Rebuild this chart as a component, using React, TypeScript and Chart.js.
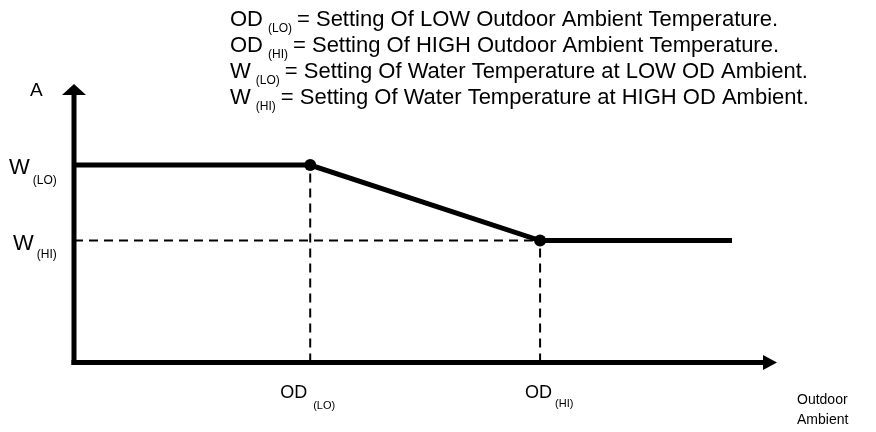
import React, { useEffect, useRef } from "react";
import { Chart, registerables } from "chart.js";

Chart.register(...registerables);

// ---- data (abstract units) ----
const X_MAX = 10;
const Y_MAX = 10;
const OD_LO = 3.36;
const OD_HI = 6.63;
const LINE_END = 9.36;
const W_LO = 7.09;
const W_HI = 4.38;

const curveX = [0, OD_LO, OD_HI, LINE_END];
const curveY = [W_LO, W_LO, W_HI, W_HI];
const curvePointRadius = [0, 6, 6, 0];

const legendMain = ["OD", "OD", "W", "W"];
const legendSub = ["(LO)", "(HI)", "(LO)", "(HI)"];
const legendText = [
  "= Setting Of LOW Outdoor Ambient Temperature.",
  "= Setting Of HIGH Outdoor Ambient Temperature.",
  "= Setting Of Water Temperature at LOW OD Ambient.",
  "= Setting Of Water Temperature at HIGH OD Ambient.",
];
const yAxisTitle = "A";
const xAxisTitle = ["Outdoor", "Ambient"];

const FONT = "'Liberation Sans', Arial, sans-serif";

function drawSubLabel(
  ctx: CanvasRenderingContext2D,
  main: string,
  sub: string,
  x: number,
  y: number,
  mainSize: number,
  subSize: number,
  gap: number,
  subDy: number
) {
  ctx.font = `${mainSize}px ${FONT}`;
  ctx.textBaseline = "middle";
  ctx.textAlign = "left";
  ctx.fillText(main, x, y);
  const w = ctx.measureText(main).width;
  ctx.font = `${subSize}px ${FONT}`;
  ctx.fillText(sub, x + w + gap, y + subDy);
  return x + w + gap + ctx.measureText(sub).width;
}

const diagramPlugin = {
  id: "diagram",
  afterDatasetsDraw(chart: any) {
    const ctx: CanvasRenderingContext2D = chart.ctx;
    const xs = chart.scales.x;
    const ys = chart.scales.y;
    const x0 = xs.getPixelForValue(0);
    const y0 = ys.getPixelForValue(0);
    const yTop = ys.getPixelForValue(Y_MAX);
    const xRight = xs.getPixelForValue(X_MAX);
    ctx.save();
    ctx.fillStyle = "#000";
    ctx.strokeStyle = "#000";
    ctx.lineWidth = 5;
    ctx.lineCap = "butt";
    // y axis
    ctx.beginPath();
    ctx.moveTo(x0, y0 + 2.5);
    ctx.lineTo(x0, yTop + 10);
    ctx.stroke();
    ctx.beginPath();
    ctx.moveTo(x0, yTop);
    ctx.lineTo(x0 - 12, yTop + 11);
    ctx.lineTo(x0 + 12, yTop + 11);
    ctx.closePath();
    ctx.fill();
    // x axis
    ctx.beginPath();
    ctx.moveTo(x0 - 2.5, y0);
    ctx.lineTo(xRight - 12, y0);
    ctx.stroke();
    ctx.beginPath();
    ctx.moveTo(xRight, y0);
    ctx.lineTo(xRight - 14, y0 - 7.5);
    ctx.lineTo(xRight - 14, y0 + 7.5);
    ctx.closePath();
    ctx.fill();

    // y axis title
    ctx.font = `19px ${FONT}`;
    ctx.textBaseline = "middle";
    ctx.textAlign = "left";
    ctx.fillText(yAxisTitle, 30, yTop + 7);

    // y labels
    const pyLo = ys.getPixelForValue(W_LO);
    const pyHi = ys.getPixelForValue(W_HI);
    drawSubLabel(ctx, "W", legendSub[2], 9, pyLo + 3, 22, 12, 3, 13);
    drawSubLabel(ctx, "W", legendSub[3], 13, pyHi + 3, 22, 12, 3, 11);

    // x labels
    const pxLo = xs.getPixelForValue(OD_LO);
    const pxHi = xs.getPixelForValue(OD_HI);
    drawSubLabel(ctx, "OD", legendSub[0], pxLo - 30, y0 + 31, 18, 11, 6, 12);
    drawSubLabel(ctx, "OD", legendSub[1], pxHi - 15, y0 + 31, 18, 11, 3, 10);

    // x axis title
    ctx.font = `14px ${FONT}`;
    ctx.textBaseline = "middle";
    ctx.fillText(xAxisTitle[0], 797, y0 + 38);
    ctx.fillText(xAxisTitle[1], 797, y0 + 58);

    // legend block
    for (let i = 0; i < legendMain.length; i++) {
      const ly = 20 + i * 26;
      const end = drawSubLabel(ctx, legendMain[i], legendSub[i], 230, ly, 22, 12, 5, 9);
      ctx.font = `22px ${FONT}`;
      ctx.fillText(legendText[i], end + 5, ly);
    }
    ctx.restore();
  },
};

export default function App() {
  const ref = useRef<HTMLCanvasElement>(null);
  useEffect(() => {
    document.body.style.margin = "0";
    const canvas = ref.current!;
    const dashed = {
      borderColor: "#000",
      borderWidth: 2,
      borderDash: [9, 6],
      pointRadius: 0,
      showLine: true,
      fill: false,
    };
    const chart = new Chart(canvas, {
      type: "scatter",
      data: {
        datasets: [
          {
            ...dashed,
            data: [
              { x: 0, y: W_HI },
              { x: OD_HI, y: W_HI },
            ],
          },
          {
            ...dashed,
            data: [
              { x: OD_LO, y: 0 },
              { x: OD_LO, y: W_LO },
            ],
          },
          {
            ...dashed,
            data: [
              { x: OD_HI, y: 0 },
              { x: OD_HI, y: W_HI },
            ],
          },
          {
            data: curveX.map((x, i) => ({ x, y: curveY[i] })),
            borderColor: "#000",
            backgroundColor: "#000",
            borderWidth: 5,
            pointRadius: curvePointRadius,
            pointBorderWidth: 0,
            showLine: true,
            fill: false,
            tension: 0,
          },
        ],
      },
      options: {
        animation: false,
        responsive: false,
        devicePixelRatio: 1,
        layout: { padding: { left: 74, right: 99, top: 84, bottom: 69.5 } },
        scales: {
          x: { type: "linear", min: 0, max: X_MAX, display: false },
          y: { type: "linear", min: 0, max: Y_MAX, display: false },
        },
        plugins: { legend: { display: false }, tooltip: { enabled: false } },
        events: [],
      },
      plugins: [diagramPlugin],
    } as any);
    return () => chart.destroy();
  }, []);
  return <canvas ref={ref} width={876} height={432} style={{ display: "block" }} />;
}
